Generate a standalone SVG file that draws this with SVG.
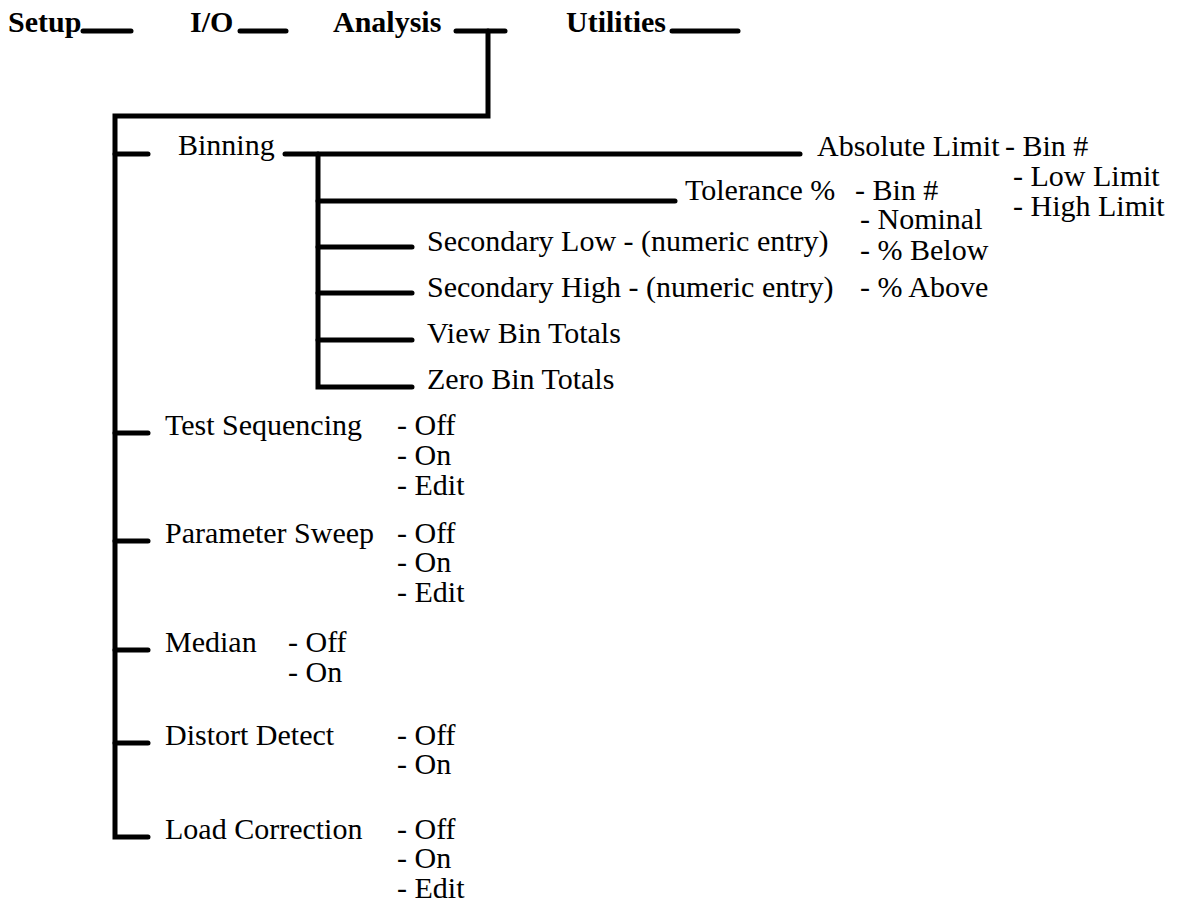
<svg xmlns="http://www.w3.org/2000/svg" width="1183" height="905" viewBox="0 0 1183 905">
<style>
text{font-family:'Liberation Serif','Times New Roman',Times,serif;font-size:30px;fill:#000}
.h{font-weight:bold}
.c{fill:none;stroke:#000;stroke-width:5;stroke-linecap:round;stroke-linejoin:miter}
</style>
<rect width="1183" height="905" fill="#fff"/>
<g id="connectors">
<path class="c" d="M83,31H131"/>
<path class="c" d="M240,31H286"/>
<path class="c" d="M456,31H505"/>
<path class="c" d="M672,31H738"/>
<path class="c" d="M488,31V116H115V837H148"/>
<path class="c" d="M115,154H148"/>
<path class="c" d="M115,433H148"/>
<path class="c" d="M115,541H148"/>
<path class="c" d="M115,650H148"/>
<path class="c" d="M115,743H148"/>
<path class="c" d="M285,154H800"/>
<path class="c" d="M318,154V387H412"/>
<path class="c" d="M318,201H675"/>
<path class="c" d="M318,247H412"/>
<path class="c" d="M318,293H412"/>
<path class="c" d="M318,340H412"/>
</g>
<g id="menu-setup"><text class="h" x="8" y="32" font-family="Liberation Serif">Setup</text></g>
<g id="menu-io"><text class="h" x="190" y="32" font-family="Liberation Serif">I/O</text></g>
<g id="menu-analysis"><text class="h" x="333" y="32" font-family="Liberation Serif">Analysis</text></g>
<g id="menu-utilities"><text class="h" x="566" y="32" font-family="Liberation Serif">Utilities</text></g>
<g id="binning"><text x="178" y="155">Binning</text></g>
<g id="absolute-limit">
<text x="817" y="156">Absolute Limit</text>
<text x="1005" y="156">- Bin #</text>
<text x="1013" y="186">- Low Limit</text>
<text x="1013" y="216">- High Limit</text>
</g>
<g id="tolerance">
<text x="685" y="200">Tolerance %</text>
<text x="855" y="200">- Bin #</text>
<text x="860" y="229">- Nominal</text>
<text x="860" y="260">- % Below</text>
<text x="860" y="297">- % Above</text>
</g>
<g id="secondary-low"><text x="427" y="251">Secondary Low - (numeric entry)</text></g>
<g id="secondary-high"><text x="427" y="297">Secondary High - (numeric entry)</text></g>
<g id="view-bin-totals"><text x="427" y="343">View Bin Totals</text></g>
<g id="zero-bin-totals"><text x="427" y="389">Zero Bin Totals</text></g>
<g id="test-sequencing">
<text x="165" y="435">Test Sequencing</text>
<text x="397" y="435">- Off</text>
<text x="397" y="465">- On</text>
<text x="397" y="495">- Edit</text>
</g>
<g id="parameter-sweep">
<text x="165" y="543">Parameter Sweep</text>
<text x="397" y="543">- Off</text>
<text x="397" y="572">- On</text>
<text x="397" y="602">- Edit</text>
</g>
<g id="median">
<text x="165" y="652">Median</text>
<text x="288" y="652">- Off</text>
<text x="288" y="682">- On</text>
</g>
<g id="distort-detect">
<text x="165" y="745">Distort Detect</text>
<text x="397" y="745">- Off</text>
<text x="397" y="774">- On</text>
</g>
<g id="load-correction">
<text x="165" y="839">Load Correction</text>
<text x="397" y="839">- Off</text>
<text x="397" y="868">- On</text>
<text x="397" y="898">- Edit</text>
</g>
</svg>
